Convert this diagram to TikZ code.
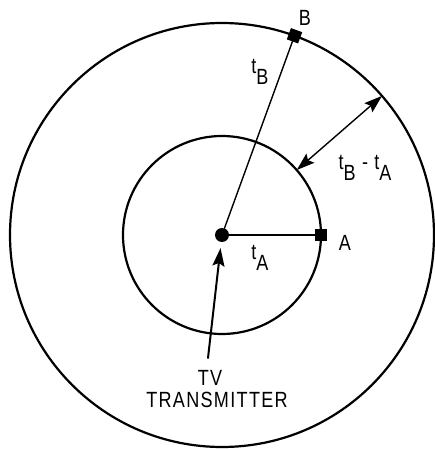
\documentclass[tikz,border=0pt]{standalone}
\usepackage{fontspec}
\setmainfont{Liberation Sans}[FakeStretch=0.82,LetterSpace=6]
\usetikzlibrary{arrows.meta}
\tikzset{
  every picture/.style={line join=round, line cap=round, >=Stealth},
  ring/.style={line width=2.2pt},
  ray/.style={line width=1.4pt},
  marker/.style={fill, inner sep=0pt, minimum size=12pt},
  lbl/.style={font=\fontsize{22}{26}\selectfont, inner sep=0pt},
}
\newcommand{\lowsub}[2]{#1\raisebox{-0.5em}{#2}}

\begin{document}
\begin{tikzpicture}[x=1pt,y=1pt,>={Stealth[length=18pt,width=12pt,inset=3pt]}]
\useasboundingbox(-222,-214)rectangle(213,235);
\draw[ring](0,0)circle(99);
\draw[ring](0,0)circle(212);
\node[marker,circle,minimum size=14pt](tx)at(0,0){};
\node[marker](a)at(99,0){};
\node[marker,rotate=-20](b)at(70:212){};
\draw[ray](tx)--(a);
\draw[ray](tx)--(b);
\coordinate(inA)at(41:99);
\coordinate(outB)at(41:212);
\draw[ray,<->](inA)--(outB);
\node[lbl](lb)at(83,217){B};
\node[lbl](la)at(123,-8){A};
\node[lbl](tb)at(38,163){\lowsub{t}{B}};
\node[lbl](ta)at(38,-23){\lowsub{t}{A}};
\node[lbl](diff)at(143,67){\lowsub{t}{B} - \lowsub{t}{A}};
\node[lbl](tv)at(-12,-143){TV};
\node[lbl](trans)at(-5,-165){TRANSMITTER};
\coordinate(tvtail)at(-14,-123);
\draw[line width=2pt,->,shorten >=6pt](tvtail)--(tx);
\end{tikzpicture}
\end{document}
